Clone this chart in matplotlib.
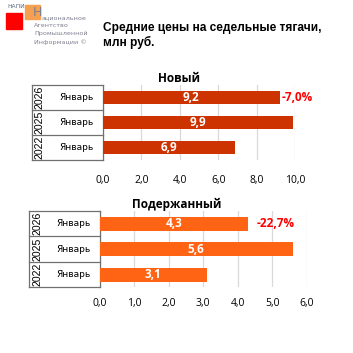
import matplotlib
matplotlib.use("Agg")
import matplotlib.pyplot as plt
from matplotlib.patches import Rectangle

years = ["2022", "2025", "2026"]
month = "Январь"
new_prices = [6.9, 9.9, 9.2]
used_prices = [3.1, 5.6, 4.3]
new_change = "-7,0%"
used_change = "-22,7%"
new_ticks = [0, 2, 4, 6, 8, 10]
used_ticks = [0, 1, 2, 3, 4, 5, 6]

W = H = 353
fig = plt.figure(figsize=(W / 100, H / 100), dpi=100)


def px_axes(x0, y0, x1, y1):
    # pixel box (top-left origin) -> figure axes
    return fig.add_axes([x0 / W, 1 - y1 / H, (x1 - x0) / W, (y1 - y0) / H])


def fmt(v):
    return f"{v:.1f}".replace(".", ",")


def panel(ax, vals, ticks, color, title, change, box_left, title_x, bar_h, pad, ch_off):
    n = len(vals)
    ax.barh(range(n), vals, height=bar_h, color=color, zorder=3)
    ax.set_xlim(ticks[0], ticks[-1])
    ax.set_ylim(-0.5, n - 0.5)
    ax.set_xticks(ticks)
    ax.set_xticklabels([fmt(t) for t in ticks], fontsize=7.5, family="Open Sans")
    ax.tick_params(axis="x", length=0, pad=pad)
    ax.set_yticks([])
    for s in ax.spines.values():
        s.set_visible(False)
    ax.grid(axis="x", color="#d9d9d9", linewidth=0.9, zorder=0)
    ax.set_axisbelow(True)
    for i, v in enumerate(vals):
        ax.text(v / 2, i, fmt(v), color="white", fontsize=8.5, fontweight="bold",
                family="Open Sans", ha="center", va="center", zorder=4)
    ax.annotate(change, (vals[-1], n - 1), xytext=(ch_off, 0), textcoords="offset points",
                color="#ff0000", fontsize=8.5, fontweight="bold", family="Open Sans",
                ha="left", va="center")
    # category box on the left
    kw = dict(transform=ax.transAxes, clip_on=False, color="#707070", linewidth=0.9)
    ax.plot([box_left, box_left], [0, 1], **kw)
    ax.plot([0, 0], [0, 1], **kw)
    for k in range(n + 1):
        ax.plot([box_left, 0], [k / n, k / n], **kw)
    for i in range(n):
        yc = (i + 0.5) / n
        ax.text(box_left + 0.042, yc, years[i], transform=ax.transAxes, rotation=90,
                fontsize=7.6, ha="center", va="center", family="Liberation Sans")
        ax.text(box_left * 0.37, yc, month, transform=ax.transAxes,
                fontsize=6.5, ha="center", va="center", family="DejaVu Sans")
    ax.text(title_x, 1.0, title, transform=ax.transAxes, fontsize=8.5,
            fontweight="bold", family="Open Sans", ha="center", va="bottom")


ax1 = px_axes(103, 84.5, 295, 160)
panel(ax1, new_prices, new_ticks, "#cc3300", "Новый", new_change,
      (31.7 - 103) / 192, (179 - 103) / 192, 0.51, 11, 1.5)

ax2 = px_axes(99.7, 211, 306.7, 287.3)
panel(ax2, used_prices, used_ticks, "#ff6314", "Подержанный", used_change,
      (29.3 - 99.7) / 207, (177 - 99.7) / 207, 0.55, 8, 6)

# logo
fig.patches.append(Rectangle((25 / W, 1 - 19 / H), 15 / W, 14 / H,
                             transform=fig.transFigure, color="#f5a050", zorder=1))
fig.patches.append(Rectangle((6 / W, 1 - 29 / H), 16 / W, 16 / H,
                             transform=fig.transFigure, color="#ff0000", zorder=2))
fig.text(7 / W, 1 - 7 / H, "НАПИ", fontsize=4.3, color="#5a6a80", va="center")
fig.text(33 / W, 1 - 12 / H, "Н", fontsize=9, color="#7a8090", va="center")
for j, line in enumerate(["ациональное", "Агентство", "Промышленной", "Информации ©"]):
    x = 42 if j == 0 else 34
    fig.text(x / W, 1 - (17.5 + 8.2 * j) / H, line, fontsize=4.6, color="#7f8090",
             va="center", family="Liberation Sans Narrow")

fig.text(103 / W, 1 - 28 / H, "Средние цены на седельные тягачи,", fontsize=8.6,
         fontweight="bold", family="Liberation Sans", va="center")
fig.text(103 / W, 1 - 42 / H, "млн руб.", fontsize=8.6,
         fontweight="bold", family="Liberation Sans", va="center")

fig.savefig("out.png", dpi=100)
